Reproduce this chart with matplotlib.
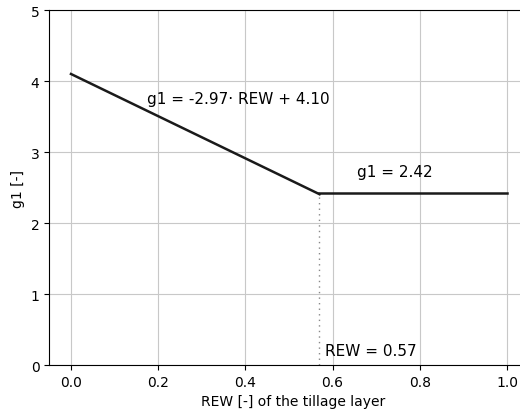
import matplotlib
matplotlib.use('Agg')
import matplotlib.pyplot as plt
import numpy as np

# piecewise g1 model
rew_break = 0.57
slope = -2.97
intercept = 4.10
g1_const = 2.42

rew_lin = np.array([0.0, rew_break])
g1_lin = slope * rew_lin + intercept
rew_flat = np.array([rew_break, 1.0])
g1_flat = np.array([g1_const, g1_const])

fig = plt.figure(figsize=(5.2, 4.1), dpi=100)
ax = fig.add_axes([0.0946, 0.107, 0.939, 0.866])

ax.plot(rew_lin, g1_lin, color='#1a1a1a', linewidth=1.8)
ax.plot(rew_flat, g1_flat, color='#1a1a1a', linewidth=1.8)
ax.plot([rew_break, rew_break], [0, g1_const], color='#888888', linestyle=(0, (1, 3)), linewidth=1)

ax.text(0.175, 3.69, 'g1 = -2.97\u00b7 REW + 4.10', fontsize=11)
ax.text(0.655, 2.66, 'g1 = 2.42', fontsize=11)
ax.text(0.582, 0.14, 'REW = 0.57', fontsize=11)

ax.set_xlim(-0.05, 1.07)
ax.set_ylim(0, 5)
ax.set_xticks([0.0, 0.2, 0.4, 0.6, 0.8, 1.0])
ax.set_yticks([0, 1, 2, 3, 4, 5])
ax.grid(True, color='#c8c8c8')
ax.spines['right'].set_visible(False)
ax.set_xlabel('REW [-] of the tillage layer')
ax.set_ylabel('g1 [-]')

fig.savefig('out.png', dpi=100)
